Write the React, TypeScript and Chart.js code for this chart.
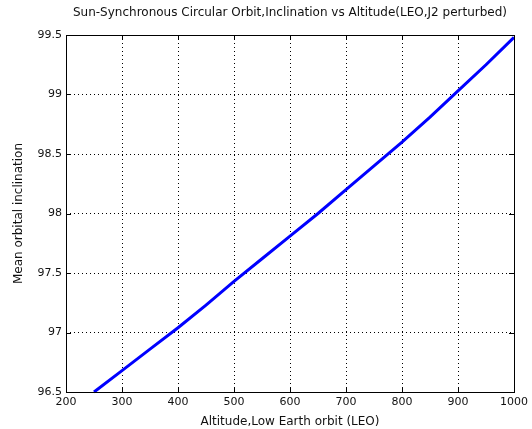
import React, { useEffect, useRef } from "react";
import { Chart, registerables } from "chart.js";

Chart.register(...registerables);

const altitudes = [250, 300, 350, 400, 450, 500, 550, 600, 650, 700, 750, 800, 850, 900, 950, 1000];
const inclinations = [96.5, 96.68, 96.86, 97.04, 97.23, 97.43, 97.62, 97.81, 98.0, 98.2, 98.4, 98.6, 98.81, 99.03, 99.25, 99.48];
const titleText = "Sun-Synchronous Circular Orbit,Inclination vs Altitude(LEO,J2 perturbed)";
const xTitle = "Altitude,Low Earth orbit (LEO)";
const yTitle = "Mean orbital inclination";
const xMin = 200, xMax = 1000, xStep = 100;
const yMin = 96.5, yMax = 99.5, yStep = 0.5;

const FONT = "'DejaVu Sans', 'Liberation Sans', Arial, sans-serif";

const boxTicks = {
  id: "boxTicks",
  afterDraw(chart: any) {
    const { ctx, chartArea: a, scales } = chart;
    ctx.save();
    ctx.strokeStyle = "#000";
    ctx.lineWidth = 1;
    ctx.beginPath();
    const L = 5;
    scales.x.ticks.forEach((t: any) => {
      const px = Math.round(scales.x.getPixelForValue(t.value)) + 0.5;
      ctx.moveTo(px, a.bottom); ctx.lineTo(px, a.bottom - L);
      ctx.moveTo(px, a.top); ctx.lineTo(px, a.top + L);
    });
    scales.y.ticks.forEach((t: any) => {
      const py = Math.round(scales.y.getPixelForValue(t.value)) + 0.5;
      ctx.moveTo(a.left, py); ctx.lineTo(a.left + L, py);
      ctx.moveTo(a.right, py); ctx.lineTo(a.right - L, py);
    });
    ctx.stroke();
    ctx.strokeRect(Math.round(a.left) + 0.5, Math.round(a.top) + 0.5, Math.round(a.right - a.left), Math.round(a.bottom - a.top));
    // title centered over plot area
    ctx.fillStyle = "#111";
    ctx.font = `12px ${FONT}`;
    ctx.textAlign = "center";
    ctx.textBaseline = "middle";
    ctx.fillText(titleText, (a.left + a.right) / 2, 13);
    ctx.restore();
  },
};

export default function App() {
  const ref = useRef<HTMLCanvasElement>(null);
  useEffect(() => {
    if (!ref.current) return;
    const chart = new Chart(ref.current, {
      type: "line",
      data: {
        datasets: [
          {
            data: altitudes.map((x, i) => ({ x, y: inclinations[i] })),
            borderColor: "#0000ff",
            borderWidth: 3,
            pointRadius: 0,
            tension: 0,
            clip: 2,
          },
        ],
      },
      options: {
        animation: false,
        responsive: false,
        layout: { padding: { right: 13, left: 0, top: 35, bottom: 0 } },
        plugins: {
          legend: { display: false },
          tooltip: { enabled: false },
          title: { display: false },
        },
        scales: {
          x: {
            type: "linear",
            min: xMin,
            max: xMax,
            afterFit: (s: any) => { s.height = 37; },
            ticks: {
              stepSize: xStep,
              color: "#111",
              padding: 4,
              font: { family: FONT, size: 11 },
              callback: (v: any) => String(v),
            },
            grid: {
              color: "#000",
              lineWidth: 1,
              drawTicks: false,
            },
            border: { display: false, dash: [1, 3] },
            title: {
              display: true,
              text: xTitle,
              color: "#111",
              font: { family: FONT, size: 12 },
              padding: { top: 0, bottom: 0 },
            },
          },
          y: {
            type: "linear",
            min: yMin,
            max: yMax,
            afterFit: (s: any) => { s.width = 66; },
            ticks: {
              stepSize: yStep,
              color: "#111",
              padding: 4,
              font: { family: FONT, size: 11 },
              callback: (v: any) => String(v),
            },
            grid: {
              color: "#000",
              lineWidth: 1,
              drawTicks: false,
            },
            border: { display: false, dash: [1, 3] },
            title: {
              display: true,
              text: yTitle,
              color: "#111",
              font: { family: FONT, size: 12 },
              padding: { top: 12, bottom: 0 },
            },
          },
        },
      } as any,
      plugins: [boxTicks],
    });
    return () => chart.destroy();
  }, []);
  return (
    <div style={{ position: "absolute", left: 0, top: 0, width: 532, height: 429, background: "#fff" }}>
      <canvas ref={ref} width={532} height={429} style={{ width: 532, height: 429 }} />
    </div>
  );
}
